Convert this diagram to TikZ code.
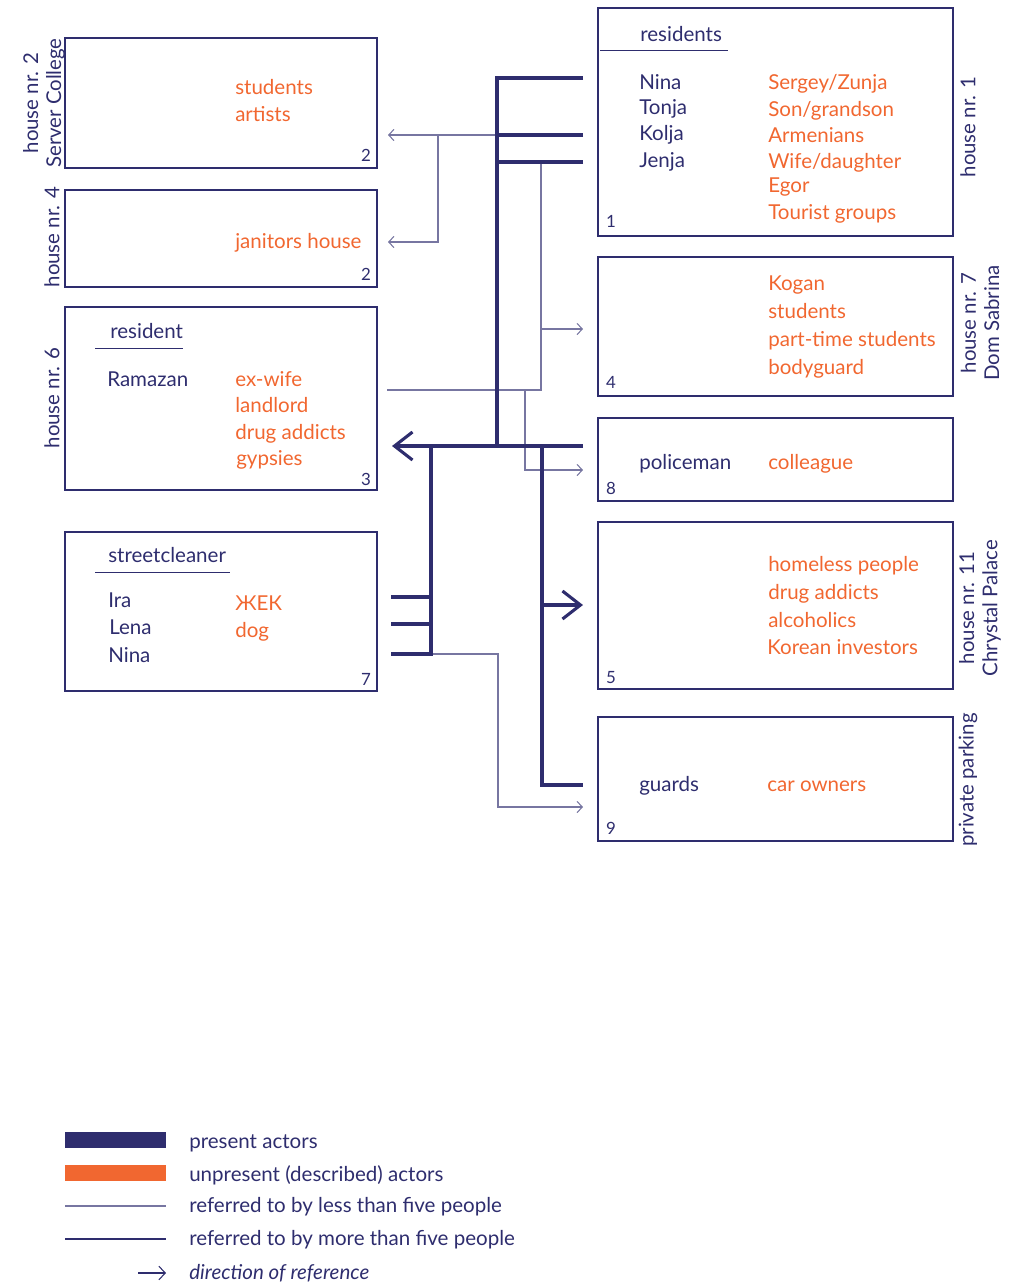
\documentclass[tikz,border=0pt]{standalone}
\usepackage{fontspec}
\setmainfont{Lato}
\usetikzlibrary{arrows.meta, calc, positioning}
\definecolor{navy}{RGB}{46,45,110}
\definecolor{orng}{RGB}{241,103,48}

\begin{document}
\begin{tikzpicture}[x=0.025cm, y=-0.025cm,
    box/.style={draw=navy, line width=0.9pt, inner sep=0pt, outer sep=0pt},
    who/.style={anchor=base west, inner sep=0pt, text=navy, font=\fontsize{14.6}{17}\selectfont},
    what/.style={who, text=orng},
    num/.style={anchor=base, inner sep=0pt, text=navy, font=\fontsize{12}{14}\selectfont},
    place/.style={rotate=90, align=center, inner sep=0pt, text=navy, font=\fontsize{14.5}{16.5}\selectfont},
    heavy/.style={draw=navy, line width=2.2pt},
    light/.style={draw=navy!65, line width=0.75pt},
    smalltip/.style={-{Straight Barb[length=1.3mm, width=2.8mm]}},
    bigtip/.style={-{Straight Barb[length=4.5mm, width=7mm]}}]
    \useasboundingbox (0,0) rectangle (1016,1284);

    % Left houses
    \node[box, minimum width=7.8cm, minimum height=3.25cm] (hA) at (221,103) {};
    \node[box, minimum width=7.8cm, minimum height=2.425cm] (hB) at (221,238.5) {};
    \node[box, minimum width=7.8cm, minimum height=4.575cm] (hC) at (221,398.5) {};
    \node[box, minimum width=7.8cm, minimum height=3.975cm] (hD) at (221,611.5) {};

    % Right houses
    \node[box, minimum width=8.875cm, minimum height=5.7cm] (h1) at (775.5,122) {};
    \node[box, minimum width=8.875cm, minimum height=3.475cm] (h4) at (775.5,326.5) {};
    \node[box, minimum width=8.875cm, minimum height=2.075cm] (h8) at (775.5,459.5) {};
    \node[box, minimum width=8.875cm, minimum height=4.175cm] (h5) at (775.5,605.5) {};
    \node[box, minimum width=8.875cm, minimum height=3.1cm] (h9) at (775.5,779) {};

    % Place names
    \node[place] (pA) at (44,103) {house nr. 2\\Server College};
    \node[place] (pB) at (52,237) {house nr. 4};
    \node[place] (pC) at (52,398) {house nr. 6};
    \node[place] (p1) at (968,127) {house nr. 1};
    \node[place] (p4) at (980,323) {house nr. 7\\Dom Sabrina};
    \node[place] (p5) at (980,608) {house nr. 11\\Chrystal Palace};
    \node[place] (p9) at (968,780) {private parking};

    % House 1
    \node[who] (res1) at (640,41) {residents};
    \draw[navy, line width=0.6pt] (600,50) -- (728,50);
    \node[who] (nina1) at (639,89) {Nina};
    \node[who] (tonja) at (639,114) {Tonja};
    \node[who] (kolja) at (639,140) {Kolja};
    \node[who] (jenja) at (639,167) {Jenja};
    \node[what] (sergey) at (768,89) {Sergey/Zunja};
    \node[what] (son) at (768,116) {Son/grandson};
    \node[what] (armen) at (768,142) {Armenians};
    \node[what] (wife) at (768,168) {Wife/daughter};
    \node[what] (egor) at (768,192) {Egor};
    \node[what] (tour) at (768,219) {Tourist groups};
    \node[num] (n1) at (611,227) {1};

    % House 7
    \node[what] (kogan) at (768,290) {Kogan};
    \node[what] (stud4) at (768,318) {students};
    \node[what] (part) at (768,346) {part-time students};
    \node[what] (body) at (768,374) {bodyguard};
    \node[num] (n4) at (611,388) {4};

    % Police
    \node[who] (police) at (639,469) {policeman};
    \node[what] (coll) at (768,469) {colleague};
    \node[num] (n8) at (611,494) {8};

    % House 11
    \node[what] (home) at (768,571) {homeless people};
    \node[what] (drug5) at (768,599) {drug addicts};
    \node[what] (alc) at (768,627) {alcoholics};
    \node[what] (korea) at (767,654) {Korean investors};
    \node[num] (n5) at (611,683) {5};

    % Parking
    \node[who] (guards) at (639,791) {guards};
    \node[what] (cars) at (767,791) {car owners};
    \node[num] (n9) at (611,834) {9};

    % House 2
    \node[what] (studA) at (235,94) {students};
    \node[what] (art) at (235,121) {artists};
    \node[num] (nA) at (366,161) {2};

    % House 4
    \node[what] (jan) at (235,248) {janitors house};
    \node[num] (nB) at (366,280) {2};

    % House 6
    \node[who] (resC) at (110,338) {resident};
    \draw[navy, line width=0.6pt] (95,348) -- (183,348);
    \node[who] (ram) at (107,386) {Ramazan};
    \node[what] (exw) at (235,386) {ex-wife};
    \node[what] (land) at (235,412) {landlord};
    \node[what] (drugC) at (235,439) {drug addicts};
    \node[what] (gyp) at (236,465) {gypsies};
    \node[num] (nC) at (366,485) {3};

    % Streetcleaner
    \node[who] (clean) at (108,562) {streetcleaner};
    \draw[navy, line width=0.6pt] (95,572) -- (230,572);
    \node[who] (ira) at (108,607) {Ira};
    \node[who] (lena) at (109,634) {Lena};
    \node[who] (ninaD) at (108,662) {Nina};
    \node[what] (zhek) at (235,610) {ЖЕК};
    \node[what] (dog) at (235,637) {dog};
    \node[num] (nD) at (366,685) {7};

    % Connector ends
    \coordinate (r1) at (583,78);
    \coordinate (r2) at (583,135);
    \coordinate (r3) at (583,162);
    \coordinate (r4) at (583,329);
    \coordinate (r8) at (583,446);
    \coordinate (r8b) at (583,470);
    \coordinate (r5) at (583,605);
    \coordinate (r9) at (583,785);
    \coordinate (r9b) at (583,807);
    \coordinate (aA) at (388,135);
    \coordinate (aB) at (388,242);
    \coordinate (lC) at (387,390);
    \coordinate (aC) at (392,446);
    \coordinate (dl1) at (391,597);
    \coordinate (dl2) at (391,624);
    \coordinate (dl3) at (391,654);
    \coordinate (jA) at (497,446);
    \coordinate (kA) at (438,135);
    \coordinate (jJ) at (541,390);
    \coordinate (jK) at (525,390);
    \coordinate (jD) at (431,654);
    \coordinate (jE) at (542,605);
    \coordinate (jL) at (498,807);

    % Thin connectors
    \draw[light, smalltip] (r2 -| jA) -- (aA);
    \draw[light, smalltip] (kA) |- (aB);
    \draw[light] (jJ |- r3) -- (jJ) -- (lC);
    \draw[light, smalltip] (jJ |- r4) -- (r4);
    \draw[light, smalltip] (jK) |- (r8b);
    \draw[light, smalltip] (jD) -| (jL) -- (r9b);

    % Thick connectors
    \draw[heavy] (r1) -| (jA);
    \draw[heavy] (r2) -- (r2 -| jA);
    \draw[heavy] (r3) -- (r3 -| jA);
    \draw[heavy, bigtip] (r8) -- (aC);
    \draw[heavy] (jD |- aC) -- (jD) -- (dl3);
    \draw[heavy] (dl1) -- (dl1 -| jD);
    \draw[heavy] (dl2) -- (dl2 -| jD);
    \draw[heavy] (jE |- aC) |- (r9);
    \draw[heavy, bigtip] (jE) -- (r5);

    % Legend
    \fill[navy] (65,1132) rectangle (166,1148);
    \fill[orng] (65,1165) rectangle (166,1181);
    \draw[light] (65,1206) -- (166,1206);
    \draw[navy, line width=1.8pt] (65,1239) -- (166,1239);
    \draw[navy, line width=0.75pt, -{Straight Barb[length=1.6mm, width=3.4mm]}] (138,1273) -- (166,1273);
    \node[who] (lg1) at (189,1148) {present actors};
    \node[who] (lg2) at (189,1181) {unpresent (described) actors};
    \node[who] (lg3) at (189,1212) {referred to by less than five people};
    \node[who] (lg4) at (189,1245) {referred to by more than five people};
    \node[who, font=\fontsize{14.6}{17}\selectfont\itshape] (lg5) at (189,1279) {direction of reference};
\end{tikzpicture}
\end{document}
